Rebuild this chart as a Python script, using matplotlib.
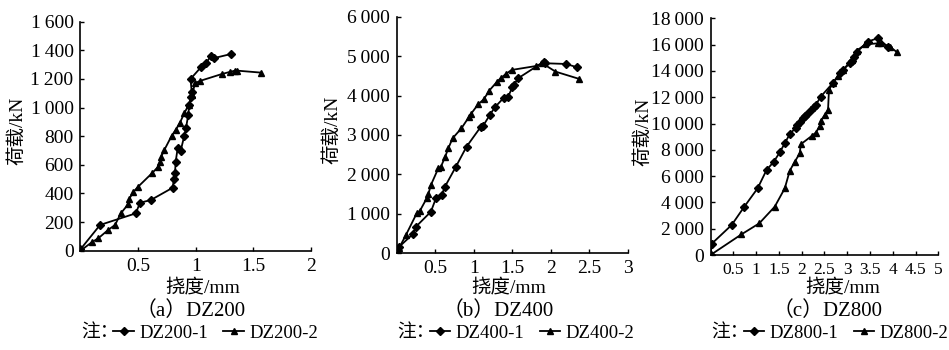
import matplotlib
matplotlib.use("Agg")
import matplotlib.pyplot as plt
from matplotlib.ticker import FuncFormatter, MultipleLocator

plt.rcParams['font.family'] = ['Liberation Serif', 'Noto Sans CJK SC']

# DZ200
a1_x = [0, 0.17, 0.48, 0.516, 0.61, 0.80, 0.81, 0.82, 0.826, 0.843, 0.87, 0.90, 0.915,
        0.935, 0.944, 0.958, 0.965, 0.955, 1.05, 1.09, 1.13, 1.16, 1.305]
a1_y = [10, 180, 261, 335, 354, 440, 499, 540, 622, 715, 700, 801, 855,
        948, 1018, 1076, 1109, 1200, 1286, 1310, 1360, 1346, 1374]
a2_x = [0, 0.1, 0.155, 0.24, 0.30, 0.35, 0.415, 0.42, 0.46, 0.50, 0.62, 0.675, 0.69,
        0.70, 0.727, 0.79, 0.825, 0.863, 0.90, 0.94, 0.97, 0.993, 1.036, 1.225, 1.30,
        1.34, 1.36, 1.57]
a2_y = [0, 60, 87, 145, 180, 261, 326, 358, 412, 447, 541, 587, 622,
        657, 703, 801, 843, 894, 960, 1020, 1090, 1170, 1186, 1234, 1250,
        1258, 1258, 1244]

# DZ400
b1_x = [0, 0.034, 0.207, 0.25, 0.444, 0.509, 0.583, 0.626, 0.768, 0.906, 1.092, 1.12,
        1.208, 1.273, 1.39, 1.446, 1.50, 1.52, 1.575, 1.908, 1.92, 2.20, 2.34]
b1_y = [0, 168, 481, 675, 1055, 1395, 1478, 1689, 2196, 2703, 3210, 3228,
        3507, 3702, 3946, 3971, 4209, 4268, 4438, 4859, 4820, 4801, 4717]
b2_x = [0, 0.03, 0.12, 0.26, 0.30, 0.39, 0.41, 0.444, 0.54, 0.574, 0.626, 0.67, 0.725,
        0.84, 0.94, 0.96, 1.057, 1.13, 1.20, 1.295, 1.347, 1.416, 1.49, 1.81, 1.89,
        2.06, 2.37]
b2_y = [0, 130, 464, 1014, 1073, 1395, 1496, 1732, 2155, 2196, 2434, 2663, 2916,
        3170, 3464, 3525, 3779, 3905, 4124, 4336, 4438, 4547, 4649, 4750, 4818,
        4607, 4421]

# DZ800
c1_x = [0, 0.03, 0.464, 0.742, 1.034, 1.23, 1.39, 1.52, 1.63, 1.74, 1.875, 1.90, 1.96,
        2.02, 2.08, 2.11, 2.21, 2.27, 2.31, 2.42, 2.68, 2.84, 2.90, 3.06, 3.10, 3.15,
        3.22, 3.45, 3.68, 3.90]
c1_y = [0, 870, 2282, 3676, 5070, 6464, 7098, 7808, 8492, 9202, 9684, 9887, 10140,
        10394, 10571, 10698, 11027, 11230, 11408, 12042, 13056, 13817, 14070, 14577,
        14754, 15033, 15463, 16224, 16500, 15800]
c2_x = [0, 0.68, 1.07, 1.41, 1.63, 1.74, 1.85, 1.96, 1.98, 2.22, 2.31, 2.40, 2.42, 2.51,
        2.58, 2.60, 2.68, 2.80, 2.91, 3.10, 3.21, 3.40, 3.68, 3.75, 3.94, 4.10]
c2_y = [0, 1572, 2408, 3676, 5070, 6413, 7098, 7732, 8416, 9050, 9303, 9811, 10216,
        10647, 11027, 12548, 13056, 13613, 14070, 14830, 15539, 16021, 16097, 16097,
        15843, 15400]

W, H = 949.0, 350.0

# rect, data, xmax, ymax, ystep, caption, labels, ylabel x, xlabel x, caption x, xtick size
panels = [
    ([0.0848, 0.2837, 0.2429, 0.6543], a1_x, a1_y, a2_x, a2_y, 2, 1600, 200,
     '（a）DZ200', 'DZ200-1', 'DZ200-2', 17, 203, 191, 14),
    ([0.418, 0.2763, 0.2437, 0.6760], b1_x, b1_y, b2_x, b2_y, 3, 6000, 1000,
     '（b）DZ400', 'DZ400-1', 'DZ400-2', 332, 509, 498, 14),
    ([0.7487, 0.2714, 0.2400, 0.6763], c1_x, c1_y, c2_x, c2_y, 5, 18000, 2000,
     '（c）DZ800', 'DZ800-1', 'DZ800-2', 643, 843, 828, 12.5),
]


def thousands(v, pos):
    s = '{:,.0f}'.format(v)
    return s.replace(',', '\u2009')


def xfmt(v, pos):
    if v == 0:
        return ''
    return '{:g}'.format(v)


fig = plt.figure(figsize=(9.49, 3.5), dpi=100)

for (rect, x1, y1, x2, y2, xmax, ymax, ystep, cap, lab1, lab2,
     ylx, xlx, capx, xts) in panels:
    ax = fig.add_axes(rect)
    ax.plot(x1, y1, color='black', lw=1.3, marker='D', ms=4.5, label=lab1)
    ax.plot(x2, y2, color='black', lw=1.3, marker='^', ms=5, label=lab2)
    ax.set_xlim(0, xmax)
    ax.set_ylim(0, ymax)
    ax.xaxis.set_major_locator(MultipleLocator(0.5))
    ax.yaxis.set_major_locator(MultipleLocator(ystep))
    ax.xaxis.set_major_formatter(FuncFormatter(xfmt))
    ax.yaxis.set_major_formatter(FuncFormatter(thousands))
    for s in ['top', 'right']:
        ax.spines[s].set_visible(False)
    for s in ['left', 'bottom']:
        ax.spines[s].set_linewidth(1.2)
    ax.tick_params(direction='in', length=3, width=1)
    ax.tick_params(axis='x', pad=5, labelsize=xts)
    ax.tick_params(axis='y', pad=5, labelsize=14)

    fig.text(ylx / W, rect[1] + rect[3] / 2 + 0.015, '荷载/kN', rotation=90,
             ha='center', va='center', fontsize=14)
    fig.text(xlx / W, 1 - 287 / H, '挠度/mm', ha='center', va='center', fontsize=14)
    fig.text(capx / W, 1 - 311 / H, cap, ha='center', va='center', fontsize=15)

    ax_w = rect[2] * W
    ax.legend(loc='center left', bbox_to_anchor=(33 / ax_w, (1 - 333 / H - rect[1]) / rect[3]),
              ncol=2, frameon=False, fontsize=13.5, handlelength=1.1,
              handletextpad=0.3, columnspacing=0.8, markerscale=0.8,
              borderaxespad=0, borderpad=0)
    fig.text(rect[0] + 1 / W, 1 - 333 / H, '注：', ha='left', va='center', fontsize=13.5)

fig.savefig('out.png', dpi=100, facecolor='white')
